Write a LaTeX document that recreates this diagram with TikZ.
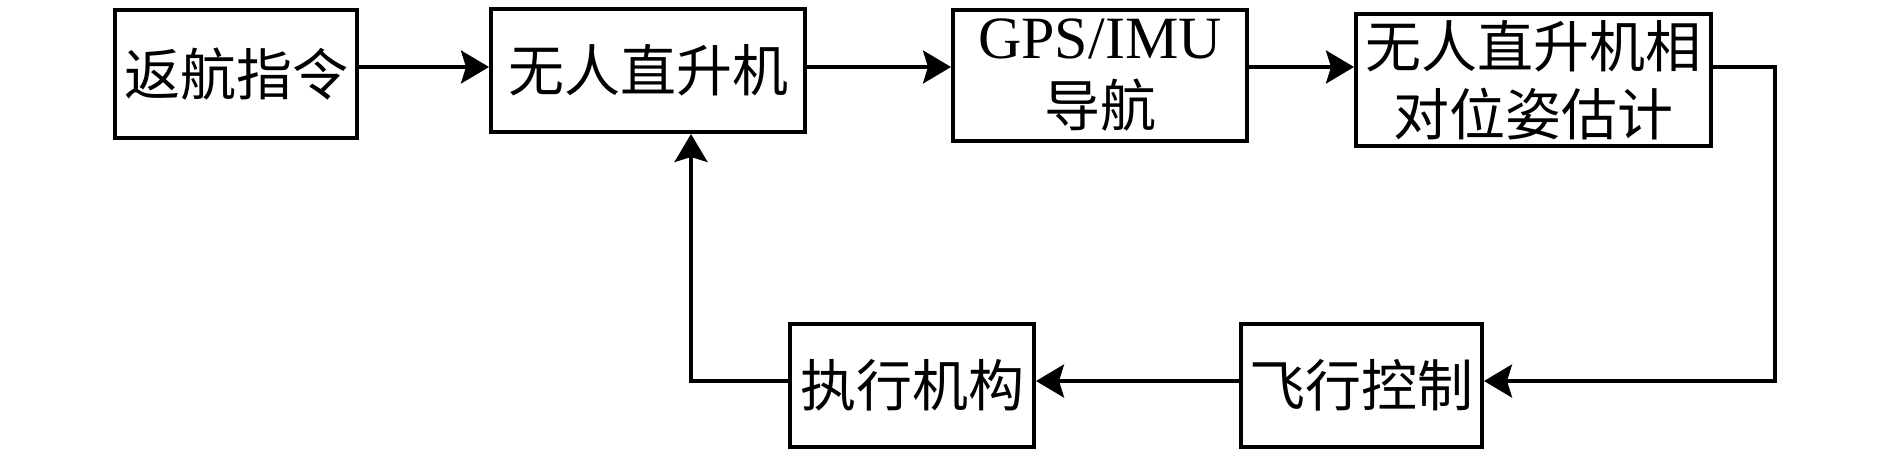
\documentclass[tikz,border=0pt]{standalone}
\usepackage{fontspec}
\setmainfont{Liberation Serif}
\newfontfamily\cjk{Noto Sans CJK SC}
\usetikzlibrary{arrows.meta}
\begin{document}
\begin{tikzpicture}[x=1pt,y=-1pt,
  box/.style={draw=black, line width=4pt, inner sep=0pt, align=center,
    font=\fontsize{56}{68}\selectfont\cjk},
  conn/.style={line width=3.5pt, -{Stealth[length=28pt,width=33pt,inset=5pt]}}]
\useasboundingbox (0,0) rectangle (1890,456);
\node[box, minimum width=242pt, minimum height=128pt] (fh) at (236,74) {返航指令};
\node[box, minimum width=314pt, minimum height=123pt] (uh) at (648,70.5) {无人直升机};
\node[box, minimum width=294pt, minimum height=131pt] (gps) at (1100,75.5) {{\rmfamily\fontsize{60}{68}\selectfont GPS/IMU}\\导航};
\node[box, minimum width=355pt, minimum height=132pt] (est) at (1533.5,80) {无人直升机相\\对位姿估计};
\node[box, minimum width=244pt, minimum height=123pt] (act) at (912,385.5) {执行机构};
\node[box, minimum width=241pt, minimum height=123pt] (fc) at (1361.5,385.5) {飞行控制};
\coordinate (topy) at (0,67);
\coordinate (boty) at (0,381);
\coordinate (upx) at (691,0);
\coordinate (rx) at (1775,0);
\draw[conn] (fh.east |- topy) -- (uh.west |- topy);
\draw[conn] (uh.east |- topy) -- (gps.west |- topy);
\draw[conn] (gps.east |- topy) -- (est.west |- topy);
\draw[conn] (est.east |- topy) -| (rx |- boty) -- (fc.east |- boty);
\draw[conn] (fc.west |- boty) -- (act.east |- boty);
\draw[conn] (act.west |- boty) -| (upx |- uh.south);
\end{tikzpicture}
\end{document}
